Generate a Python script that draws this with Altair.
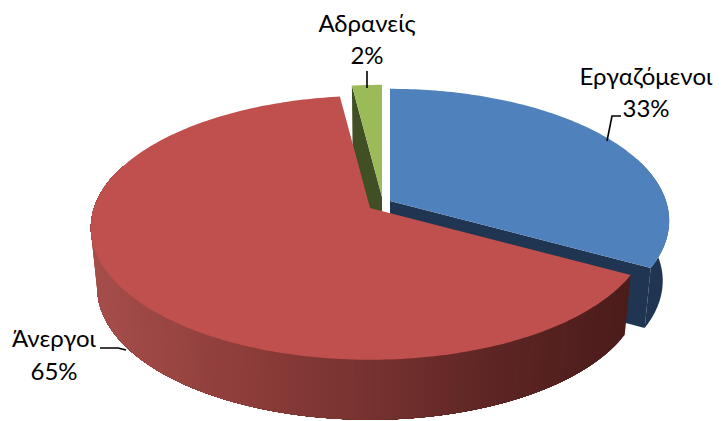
import math
import altair as alt

labels = ["Εργαζόμενοι", "Άνεργοι", "Αδρανείς"]
shares = [33, 65, 2]
top_colors = ["#4f81bd", "#c0504d", "#9bbb59"]
wall_colors = ["#1f3552", "#7a3431", "#414f24"]
pct_text = ["33%", "65%", "2%"]

label_x = [646, 54, 367]
label_y = [78, 340, 25]
pct_y = [110, 373, 57]
leaders = [[(607, 141), (612, 116), (621, 116)],
           [(100, 348), (118, 348), (126, 350)],
           [(367, 71), (367, 88)]]

apex = [(390, 201), (370, 208), (382, 197)]
A, B, K, DEPTH = 276.0, 129.0, 0.15, 60
INSET = 0.977
RED_STOPS = [(90, (166, 78, 75)), (250, (140, 60, 57)), (370, (118, 50, 48)),
             (500, (92, 37, 35)), (635, (74, 28, 26))]


def proj(c, deg, r=1.0):
    t = math.radians(deg)
    X, Y = r * math.sin(t), r * math.cos(t)
    w = 1 + K * Y
    return (c[0] + A * X / w, c[1] - B * Y / w)


def down(p, c):
    return (c[0] + (p[0] - c[0]) * INSET, p[1] + DEPTH)


def poly(pts, fill):
    ring = [list(p) for p in pts] + [list(pts[0])]
    return {"type": "Feature", "properties": {"fill": fill},
            "geometry": {"type": "Polygon", "coordinates": [ring]}}


def red_col(x):
    for (x0, c0), (x1, c1) in zip(RED_STOPS, RED_STOPS[1:]):
        if x <= x1:
            f = max(0, (x - x0) / (x1 - x0))
            return "#%02x%02x%02x" % tuple(round(a + (b - a) * f) for a, b in zip(c0, c1))
    return "#4a1c1a"


total = sum(shares)
edges = [0]
for s in shares:
    edges.append(edges[-1] + 360 * s / total)


def arc(c, a0, a1, n=120):
    return [proj(c, a0 + (a1 - a0) * i / n) for i in range(n + 1)]


features = []
c = apex[0]
e = proj(c, edges[1])
features.append(poly([c, e, down(e, c), down(c, c)], wall_colors[0]))
rim = arc(c, 70, edges[1], 60)
features.append(poly(rim + [down(p, c) for p in reversed(rim)], wall_colors[0]))
features.append(poly([c] + arc(c, edges[0], edges[1]), top_colors[0]))
c = apex[2]
e = proj(c, edges[2])
features.append(poly([c, e, down(e, c), down(c, c)], wall_colors[2]))
features.append(poly([c] + arc(c, edges[2], edges[3], 10), top_colors[2]))
c = apex[1]
steps = 110
end = 290
for i in range(steps):
    a0 = edges[1] + (end - edges[1]) * i / steps
    a1 = edges[1] + (end - edges[1]) * (i + 1) / steps
    seg = arc(c, a0, end, 40)
    col = red_col((proj(c, a0)[0] + proj(c, a1)[0]) / 2)
    features.append(poly(seg + [down(p, c) for p in reversed(seg)], col))
features.append(poly([c] + arc(c, edges[1], edges[2], 240), top_colors[1]))

lines = [{"type": "Feature", "properties": {},
          "geometry": {"type": "LineString", "coordinates": [list(p) for p in pts]}}
         for pts in leaders]

W, H = 705, 413
proj_opts = {"type": "identity", "scale": 1, "translate": [-8, -8]}

pie = alt.Chart(alt.Data(values=features)).mark_geoshape(strokeWidth=0).encode(
    fill=alt.Fill("properties.fill:N", scale=None),
).project(**proj_opts)

lead = alt.Chart(alt.Data(values=lines)).mark_geoshape(
    filled=False, stroke="#000000", strokeWidth=1.6
).project(**proj_opts)

rows = []
for i, l in enumerate(labels):
    rows.append({"t": l, "x": label_x[i], "y": label_y[i]})
    rows.append({"t": pct_text[i], "x": label_x[i], "y": pct_y[i]})

xs = alt.X("x:Q", scale=alt.Scale(domain=[8, 8 + W], range=[0, W]), axis=None)
ys = alt.Y("y:Q", scale=alt.Scale(domain=[8, 8 + H], range=[0, H]), axis=None)
text = alt.Chart(alt.Data(values=rows)).mark_text(
    font="Lato", fontSize=24, color="#000000", align="center", baseline="middle"
).encode(x=xs, y=ys, text="t:N")

chart = alt.layer(pie, lead, text).properties(
    width=W, height=H, padding=0, autosize=alt.AutoSizeParams(type="none")
).configure_view(stroke=None)

chart.save("out.html", embed_options={"renderer": "svg", "actions": False})
